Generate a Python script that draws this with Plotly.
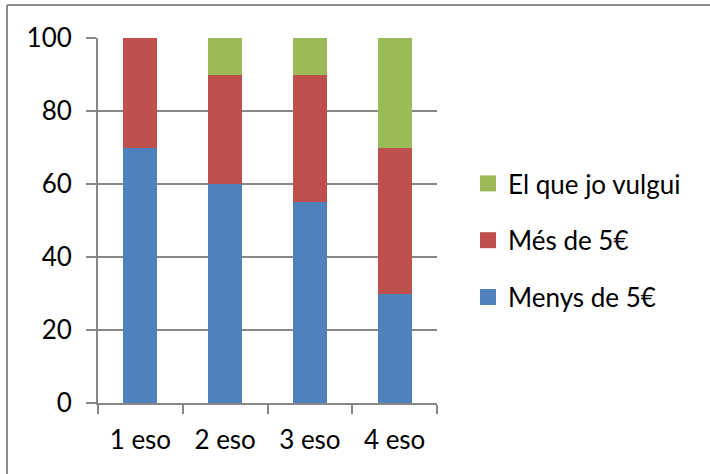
import plotly.graph_objects as go

categories = ["1 eso", "2 eso", "3 eso", "4 eso"]
menys = [70, 60, 55, 30]
mes = [30, 30, 35, 40]
elque = [0, 10, 10, 30]
y_ticks = [0, 20, 40, 60, 80, 100]

series = [
    ("Menys de 5€", menys, "#4F81BD"),
    ("Més de 5€", mes, "#C0504D"),
    ("El que jo vulgui", elque, "#9BBB59"),
]

W, H = 710, 474
L, R, T, B = 98, 437, 38, 403
pw, ph = R - L, B - T

fig = go.Figure()
for name, vals, col in series:
    fig.add_bar(x=categories, y=vals, name=name, showlegend=False,
                marker=dict(color=col, line=dict(width=0)))
for name, vals, col in reversed(series):
    fig.add_scatter(x=[None], y=[None], mode="markers", name=name, legendgroup=name,
                    marker=dict(symbol="square", size=18, color=col, line=dict(width=0)))

grid = "#878787"
font = "Lato"
fs = 26
fig.update_layout(
    width=W, height=H,
    barmode="stack", bargap=0.6,
    margin=dict(l=L, r=W - R, t=T, b=H - B, pad=0),
    paper_bgcolor="white", plot_bgcolor="white",
    font=dict(family=font, size=fs, color="black"),
    showlegend=True,
    legend=dict(
        x=(468 - L) / pw, y=(B - 160) / ph, xanchor="left", yanchor="top",
        traceorder="grouped", font=dict(size=fs, family=font),
        tracegroupgap=20, bgcolor="rgba(0,0,0,0)", itemwidth=30,
    ),
    xaxis=dict(
        showgrid=False, showline=True, linecolor=grid, linewidth=2,
        ticks="outside", tickson="boundaries", ticklen=9, tickwidth=2, tickcolor=grid,
        tickfont=dict(size=fs, family=font), range=[-0.5, 3.5], ticklabelstandoff=13,
    ),
    yaxis=dict(
        range=[0, 100], tickvals=y_ticks, showgrid=True, gridcolor=grid, gridwidth=2,
        showline=True, linecolor=grid, linewidth=2, zeroline=False,
        ticks="outside", ticklen=10, tickwidth=2, tickcolor=grid,
        tickfont=dict(size=fs, family=font), ticklabelstandoff=9,
    ),
    shapes=[
        dict(type="line", xref="paper", yref="paper",
             x0=(7 - L) / pw, x1=(730 - L) / pw, y0=(B - 5) / ph, y1=(B - 5) / ph,
             line=dict(color="#8c8c8c", width=2)),
        dict(type="line", xref="paper", yref="paper",
             x0=(7 - L) / pw, x1=(7 - L) / pw, y0=(B - 5) / ph, y1=(B - 500) / ph,
             line=dict(color="#8c8c8c", width=2)),
    ],
)

fig.write_html("out.html", config={"displayModeBar": False},
               post_script="document.body.style.margin='0';")
